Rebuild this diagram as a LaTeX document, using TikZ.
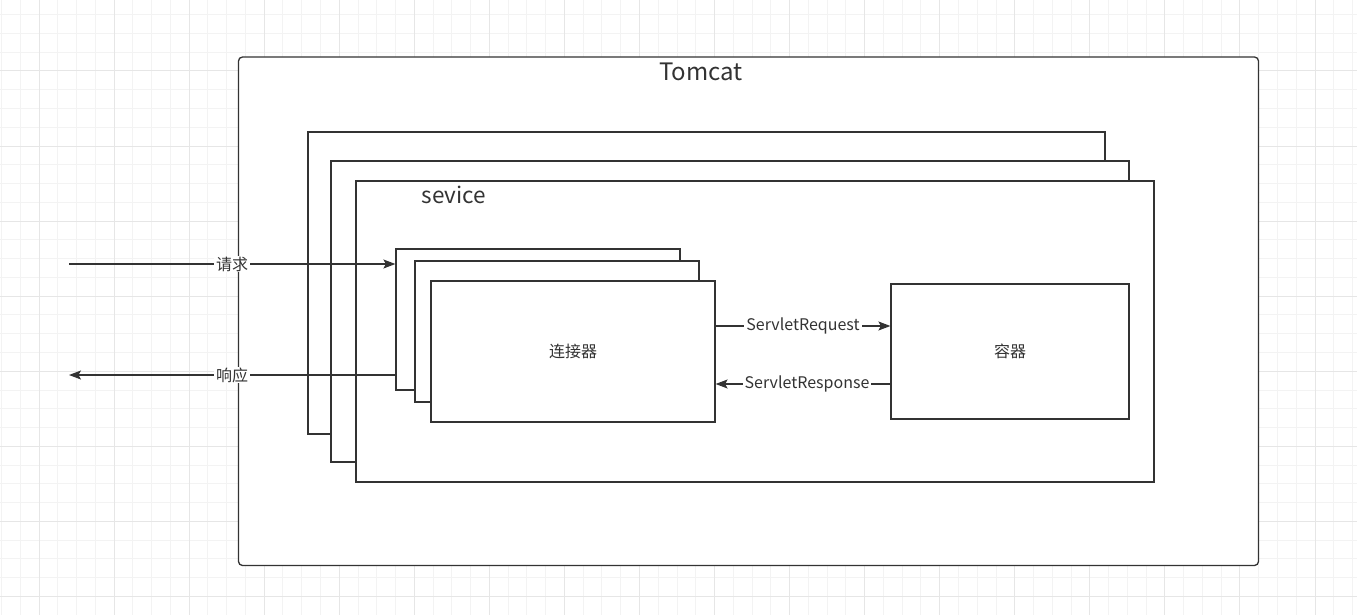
\documentclass[tikz,border=0pt]{standalone}
\usepackage{fontspec}
\setmainfont{Noto Sans CJK SC}
\usetikzlibrary{arrows.meta}
\definecolor{ink}{HTML}{333333}
\definecolor{gridminor}{HTML}{F3F3F3}
\definecolor{gridmajor}{HTML}{E6E6E6}
\tikzset{
  box/.style={draw=ink, line width=1.2pt, fill=white, rectangle, inner sep=0pt},
  outerbox/.style={box, rounded corners=4pt, line width=1.3pt},
  conn/.style={draw=ink, line width=1.2pt, -{Stealth[length=12pt,width=9pt,inset=2.5pt]}},
  lbl/.style={fill=white, inner xsep=2pt, inner ysep=1pt, text=ink, font=\fontsize{16}{18}\selectfont},
  boxtext/.style={text=ink, font=\fontsize{16}{19}\selectfont},
  gminor/.style={draw=gridminor, line width=1pt},
  gmajor/.style={draw=gridmajor, line width=1pt}
}
\begin{document}
\begin{tikzpicture}[x=1pt,y=-1pt]
\useasboundingbox (0,0) rectangle (1357,615);
% background grid
\foreach \i in {0,...,72} {\draw[gminor] ({1.47+\i*18.765},0) -- ({1.47+\i*18.765},615);}
\foreach \j in {0,...,31} {\draw[gminor] (0,{14.7+\j*18.765}) -- (1357,{14.7+\j*18.765});}
\foreach \i in {0,...,17} {\draw[gmajor] ({39+\i*75.06},0) -- ({39+\i*75.06},615);}
\foreach \j in {0,...,7} {\draw[gmajor] (0,{71+\j*75.06}) -- (1357,{71+\j*75.06});}

% Tomcat
\node[outerbox, minimum width=1020pt, minimum height=508.5pt] (tomcat) at (748.5,311.25) {};
\node[text=ink, font=\fontsize{24}{28}\selectfont] (tomcatlbl) at (701,72) {Tomcat};

% services
\node[box, minimum width=797pt, minimum height=302pt] (svc3) at (706.5,283) {};
\node[box, minimum width=798pt, minimum height=301pt] (svc2) at (730,311.5) {};
\node[box, minimum width=798pt, minimum height=301pt] (svc1) at (755,331.5) {};
\node[text=ink, font=\fontsize{22.5}{26}\selectfont] (svclbl) at (454,195) {sevice};

% connectors
\node[box, minimum width=284pt, minimum height=141pt] (con3) at (538,319.5) {};
\node[box, minimum width=284pt, minimum height=141pt] (con2) at (557,331.5) {};
\node[box, minimum width=284pt, minimum height=141pt, boxtext] (con1) at (573,351.5) {连接器};

% container
\node[box, minimum width=238pt, minimum height=135pt, boxtext] (cont) at (1010,351.5) {容器};

% external request / response
\coordinate (reqL) at (69,264);
\coordinate (resL) at (69,375);
\coordinate (sreq) at (0,326);
\coordinate (sres) at (0,384);
\draw[conn] (reqL) -- node[lbl] {请求} (reqL -| con3.west);
\draw[conn] (con3.west |- resL) -- node[lbl] {响应} (resL);

% servlet request / response
\draw[conn] (con1.east |- sreq) -- node[lbl] {ServletRequest} (cont.west |- sreq);
\draw[conn] (cont.west |- sres) -- node[lbl, xshift=4pt] {ServletResponse} (con1.east |- sres);
\end{tikzpicture}
\end{document}
